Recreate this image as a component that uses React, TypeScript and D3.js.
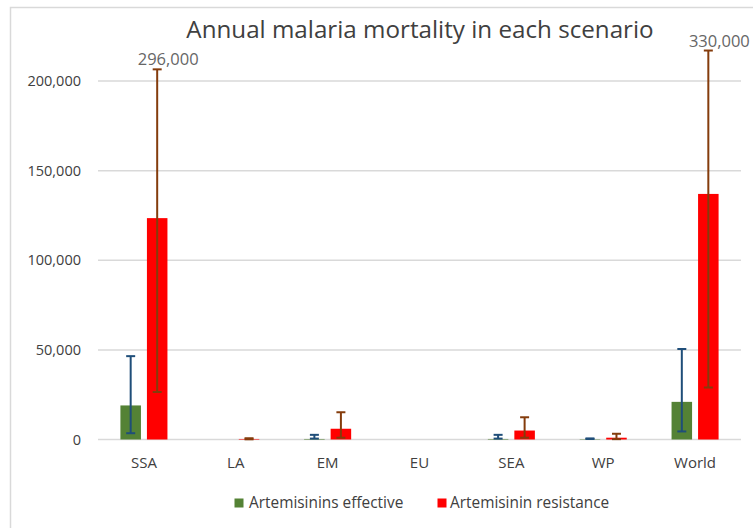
import React from "react";
import * as d3 from "d3";

const categories = ["SSA", "LA", "EM", "EU", "SEA", "WP", "World"];
const seriesNames = ["Artemisinins effective", "Artemisinin resistance"];
const effective = [19000, 0, 300, 0, 300, 200, 21000];
const effectiveLow = [3500, 0, 500, 0, 500, 300, 4500];
const effectiveHigh = [46500, 0, 2600, 0, 2600, 600, 50500];
const resistance = [123500, 300, 6000, 0, 5000, 1000, 137000];
const resistanceLow = [26500, 100, 1000, 0, 1000, 200, 29000];
const resistanceHigh = [206500, 700, 15200, 0, 12400, 3200, 217000];
const resistanceHighLabels = ["296,000", "", "", "", "", "", "330,000"];
const yTicks = [0, 50000, 100000, 150000, 200000];

const W = 753;
const H = 528;
const FONT = "'Open Sans', 'DejaVu Sans', sans-serif";
const barColors = ["#548235", "#ff0000"];
const errColors = ["#1f4e79", "#843c0c"];

export default function App() {
  const x0 = d3
    .scaleBand<string>()
    .domain(categories)
    .range([98, 741])
    .paddingInner(0.488)
    .paddingOuter(0.244);
  const x1 = d3
    .scaleBand<string>()
    .domain(seriesNames)
    .range([0, x0.bandwidth()])
    .paddingInner(0.226);
  const y = d3.scaleLinear().domain([0, 200000]).range([439.5, 81]);
  const fmt = d3.format(",");

  const series = [
    { name: seriesNames[0], vals: effective, lo: effectiveLow, hi: effectiveHigh },
    { name: seriesNames[1], vals: resistance, lo: resistanceLow, hi: resistanceHigh },
  ];
  const cap = 4.5;

  return (
    <div style={{ position: "absolute", left: 0, top: 0 }}>
      <svg width={W} height={H} style={{ display: "block", background: "#fff" }}>
        <rect x={10.5} y={7.5} width={800} height={600} fill="#fff" stroke="#d9d9d9" strokeWidth={1.5} />
        <text
          x={420}
          y={38}
          textAnchor="middle"
          fontFamily={FONT}
          fontSize={24.2}
          fill="#404040"
        >
          Annual malaria mortality in each scenario
        </text>
        {yTicks.map((t) => (
          <g key={t}>
            <line x1={98} x2={741} y1={y(t)} y2={y(t)} stroke="#d9d9d9" strokeWidth={1.5} />
            <text
              x={81}
              y={y(t) + 5}
              textAnchor="end"
              fontFamily={FONT}
              fontSize={14.5}
              fill="#404040"
            >
              {fmt(t)}
            </text>
          </g>
        ))}
        {categories.map((c, i) => (
          <g key={c}>
            {series.map((s, si) => {
              const bx = (x0(c) as number) + (x1(s.name) as number);
              const bw = x1.bandwidth();
              const cx = bx + bw / 2;
              const v = s.vals[i];
              const hasErr = s.hi[i] > 0;
              return (
                <g key={s.name}>
                  {v > 0 && (
                    <rect x={bx} y={y(v)} width={bw} height={y(0) - y(v)} fill={barColors[si]} />
                  )}
                  {hasErr && (
                    <g stroke={errColors[si]} strokeWidth={2}>
                      <line x1={cx} x2={cx} y1={y(s.lo[i])} y2={y(s.hi[i])} />
                      <line x1={cx - cap} x2={cx + cap} y1={y(s.lo[i])} y2={y(s.lo[i])} />
                      <line x1={cx - cap} x2={cx + cap} y1={y(s.hi[i])} y2={y(s.hi[i])} />
                    </g>
                  )}
                  {si === 1 && resistanceHighLabels[i] && (
                    <text
                      x={cx + 11}
                      y={y(s.hi[i]) - 4}
                      textAnchor="middle"
                      fontFamily={FONT}
                      fontSize={16.5}
                      fill="#666666"
                    >
                      {resistanceHighLabels[i]}
                    </text>
                  )}
                </g>
              );
            })}
            <text
              x={(x0(c) as number) + x0.bandwidth() / 2}
              y={468}
              textAnchor="middle"
              fontFamily={FONT}
              fontSize={15}
              fill="#404040"
            >
              {c}
            </text>
          </g>
        ))}
        <g fontFamily={FONT} fontSize={15.4} fill="#404040">
          <rect x={234.5} y={498.5} width={9} height={9} fill={barColors[0]} />
          <text x={249} y={508}>{seriesNames[0]}</text>
          <rect x={437.5} y={498.5} width={9} height={9} fill={barColors[1]} />
          <text x={450} y={508}>{seriesNames[1]}</text>
        </g>
      </svg>
    </div>
  );
}
